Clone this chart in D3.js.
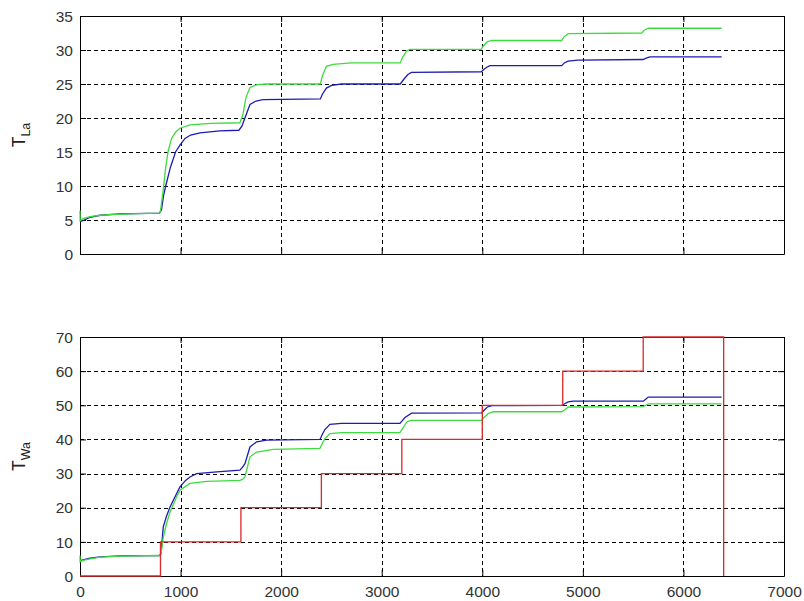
<!DOCTYPE html>
<html>
<head>
<meta charset="utf-8">
<script src="https://cdn.jsdelivr.net/npm/d3@7"></script>
<style>
  html, body { margin: 0; padding: 0; background: #fff; }
  svg { display: block; }
</style>
</head>
<body>
<svg id="chart" width="804" height="601"></svg>
<script>
// ---------- DATA ----------
const xTicks = [0, 1000, 2000, 3000, 4000, 5000, 6000, 7000];
const yTicksTop = [0, 5, 10, 15, 20, 25, 30, 35];
const yTicksBottom = [0, 10, 20, 30, 40, 50, 60, 70];

// Top panel (T_La)
const topBlueT = [0, 30, 100, 200, 400, 790, 810, 830, 852, 900, 950, 994, 1044, 1100, 1193, 1391, 1580, 1610, 1640, 1690, 1750, 1820, 2390, 2410, 2450, 2502, 2600, 3185, 3220, 3260, 3296, 3990, 4020, 4050, 4076, 4790, 4815, 4854, 4950, 5600, 5630, 5666, 6380];
const topBlueV = [4.8, 4.9, 5.4, 5.7, 5.9, 6.0, 6.5, 8.5, 10, 12.8, 15, 16, 17, 17.5, 17.8, 18.1, 18.2, 18.8, 20, 22, 22.5, 22.7, 22.8, 23.5, 24.4, 24.8, 25.0, 25.0, 25.7, 26.4, 26.7, 26.8, 27.2, 27.5, 27.7, 27.7, 28.1, 28.35, 28.5, 28.6, 28.8, 29.0, 29.0];

const topGreenT = [0, 1, 30, 100, 200, 300, 500, 790, 800, 815, 828, 850, 875, 910, 950, 994, 1093, 1300, 1590, 1620, 1650, 1690, 1760, 1860, 2390, 2410, 2450, 2515, 2700, 3185, 3210, 3250, 3280, 3990, 4010, 4050, 4092, 4790, 4810, 4854, 5585, 5610, 5650, 6380];
const topGreenV = [6.4, 4.9, 5.2, 5.5, 5.7, 5.8, 5.9, 6.0, 6.3, 8.0, 9.5, 12.5, 15, 17, 17.9, 18.5, 19.0, 19.2, 19.3, 20.5, 23, 24.5, 24.9, 25.0, 25.0, 26.2, 27.6, 27.9, 28.1, 28.1, 29.0, 29.9, 30.1, 30.1, 30.6, 31.2, 31.4, 31.4, 31.9, 32.4, 32.5, 32.9, 33.2, 33.2];

// Bottom panel (T_Wa)
const botBlueT = [0, 30, 100, 200, 400, 790, 805, 828, 860, 895, 950, 994, 1050, 1093, 1160, 1360, 1590, 1615, 1640, 1690, 1756, 1856, 2386, 2410, 2435, 2485, 2600, 3181, 3205, 3231, 3297, 3993, 4020, 4050, 4100, 4790, 4810, 4854, 4900, 5600, 5625, 5650, 6380];
const botBlueV = [4.5, 4.7, 5.2, 5.6, 5.9, 6.0, 6.6, 14.4, 17.5, 20.2, 23.5, 26.1, 28.0, 29.0, 30.0, 30.5, 31.0, 31.8, 32.9, 37.8, 39.3, 39.8, 40.0, 41.5, 42.9, 44.4, 44.7, 44.7, 45.5, 46.4, 47.7, 47.8, 48.6, 49.5, 49.9, 50.0, 50.3, 51.0, 51.2, 51.2, 51.8, 52.4, 52.4];

const botGreenT = [0, 1, 30, 100, 199, 400, 790, 805, 828, 860, 895, 950, 994, 1093, 1260, 1590, 1615, 1640, 1690, 1756, 1922, 2386, 2410, 2435, 2485, 2600, 3181, 3210, 3250, 3290, 3993, 4020, 4060, 4110, 4790, 4820, 4854, 5600, 5625, 5650, 6380];
const botGreenV = [6.0, 4.2, 4.6, 5.0, 5.5, 5.8, 6.0, 6.3, 11.4, 15.3, 18.7, 22.5, 25.1, 27.1, 27.7, 28.0, 28.3, 29.0, 34.9, 36.3, 37.1, 37.4, 38.9, 40.2, 41.7, 42.0, 42.0, 43.3, 45.1, 45.6, 45.6, 46.5, 47.6, 48.1, 48.1, 48.7, 49.5, 49.6, 50.0, 50.4, 50.4];

// Reference step (red): level holds from each start time to the next
const redStepT = [0, 800, 1600, 2400, 3200, 4000, 4800, 5600, 6400];
const redStepV = [0, 10, 20, 30, 40, 50, 60, 70, 0];

// ---------- DRAWING ----------
const svg = d3.select("#chart");
const colBlue = "#1c1cb0", colGreen = "#3cdc3c", colRed = "#dc2828";
const fontFam = "'Liberation Sans', Arial, Helvetica, sans-serif";

const x = d3.scaleLinear().domain([0, 7000]).range([80, 784]);

function zip(ts, vs) { return ts.map((t, i) => [t, vs[i]]); }

function panel(cfg) {
  const y = d3.scaleLinear().domain([0, cfg.ymax]).range([cfg.bottom, cfg.top]);
  const g = svg.append("g");
  const L = x.range()[0], R = x.range()[1];

  // grid
  g.selectAll(".hg").data(cfg.yTicks.slice(1, -1)).enter().append("line")
    .attr("x1", L).attr("x2", R)
    .attr("y1", d => Math.round(y(d)) + 0.5).attr("y2", d => Math.round(y(d)) + 0.5)
    .attr("stroke", "#000").attr("stroke-width", 1).attr("stroke-dasharray", "4,3");
  g.selectAll(".vg").data(xTicks.slice(1, -1)).enter().append("line")
    .attr("y1", cfg.top).attr("y2", cfg.bottom)
    .attr("x1", d => Math.round(x(d)) + 0.5).attr("x2", d => Math.round(x(d)) + 0.5)
    .attr("stroke", "#000").attr("stroke-width", 1).attr("stroke-dasharray", "4,3");

  // axes (box with inward ticks)
  const bottomAx = d3.axisBottom(x).tickValues(xTicks).tickSizeInner(-6).tickSizeOuter(0)
    .tickFormat(cfg.xLabels ? d3.format("d") : "");
  const topAx = d3.axisTop(x).tickValues(xTicks).tickSizeInner(-6).tickSizeOuter(0).tickFormat("");
  const leftAx = d3.axisLeft(y).tickValues(cfg.yTicks).tickSizeInner(-6).tickSizeOuter(0).tickFormat(d3.format("d"));
  const rightAx = d3.axisRight(y).tickValues(cfg.yTicks).tickSizeInner(-6).tickSizeOuter(0).tickFormat("");

  const ax = [
    g.append("g").attr("transform", `translate(0,${cfg.bottom})`).call(bottomAx),
    g.append("g").attr("transform", `translate(0,${cfg.top})`).call(topAx),
    g.append("g").attr("transform", `translate(${L},0)`).call(leftAx),
    g.append("g").attr("transform", `translate(${R},0)`).call(rightAx)
  ];
  ax.forEach(a => {
    a.selectAll(".domain").attr("stroke", "#000");
    a.selectAll(".tick line").attr("stroke", "#000");
    a.selectAll("text").attr("font-family", fontFam).attr("font-size", 15.5).attr("fill", "#333");
  });
  ax[2].selectAll("text").attr("x", -7).attr("dy", "0.34em");
  ax[0].selectAll("text").attr("y", 9).attr("dy", "0.76em");

  // data lines (drawn over the axes, as in the original)
  const line = d3.line().x(d => x(d[0])).y(d => y(d[1]));
  cfg.series.forEach(s => {
    const ln = s.step ? d3.line().x(d => x(d[0])).y(d => y(d[1])).curve(d3.curveStepAfter) : line;
    g.append("path").datum(zip(s.t, s.v))
      .attr("fill", "none").attr("stroke", s.color).attr("stroke-width", 1.3)
      .attr("d", ln);
  });

  // y label with subscript
  const cy = (cfg.top + cfg.bottom) / 2;
  const lab = g.append("text")
    .attr("transform", `translate(${cfg.labX},${cy}) rotate(-90)`)
    .attr("text-anchor", "middle")
    .attr("font-family", fontFam).attr("fill", "#222");
  lab.append("tspan").attr("font-size", 17.5).text("T");
  lab.append("tspan").attr("font-size", 12.5).attr("dy", 5).text(cfg.sub);
}

panel({
  top: 16, bottom: 254, ymax: 35, yTicks: yTicksTop, xLabels: false,
  sub: "La", labX: 25,
  series: [
    { t: topBlueT, v: topBlueV, color: colBlue },
    { t: topGreenT, v: topGreenV, color: colGreen }
  ]
});

panel({
  top: 337, bottom: 576, ymax: 70, yTicks: yTicksBottom, xLabels: true,
  sub: "Wa", labX: 25,
  series: [
    { t: botBlueT, v: botBlueV, color: colBlue },
    { t: botGreenT, v: botGreenV, color: colGreen },
    { t: redStepT, v: redStepV, color: colRed, step: true }
  ]
});
</script>
</body>
</html>
